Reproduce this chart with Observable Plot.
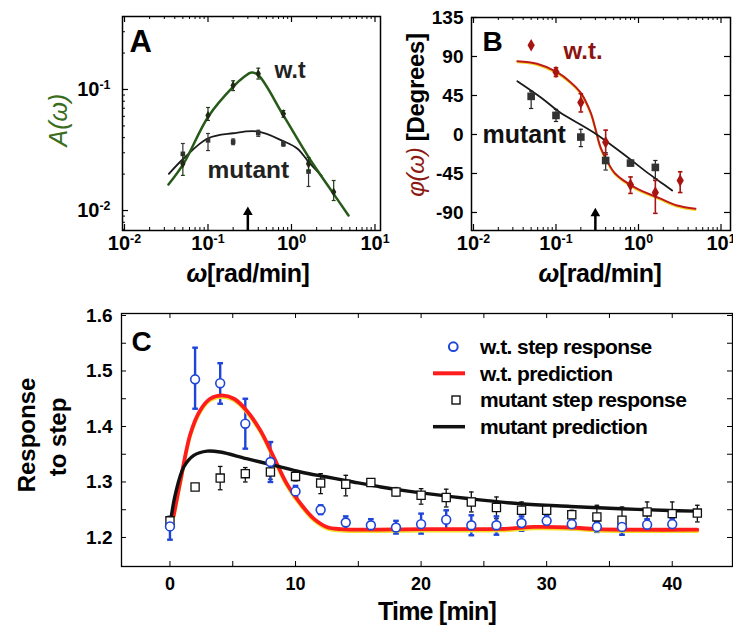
<!DOCTYPE html>
<html><head><meta charset="utf-8">
<script src="https://cdn.jsdelivr.net/npm/d3@7"></script>
<script src="https://cdn.jsdelivr.net/npm/@observablehq/plot@0.6"></script>
<style>
body{margin:0;background:#fff;}
#wrap{position:relative;width:733px;height:630px;overflow:hidden;font-family:"Liberation Sans",Arial,sans-serif;font-weight:bold;color:#000;}
.pl{position:absolute;}
.pl svg{overflow:visible;}
.lab{position:absolute;white-space:nowrap;transform:translate(-50%,-50%);line-height:1;}
.rot{transform:translate(-50%,-50%) rotate(-90deg);}
</style></head><body><div id="wrap"></div>
<script>
// ================= DATA =================
// Panel A : amplitude A(omega), log-log
const freqA    = [0.05, 0.1, 0.2, 0.4, 0.8, 1.6, 3.2];
const ampWT    = [0.0243, 0.061, 0.108, 0.135, 0.063, 0.0243, 0.0142];
const ampWTlo  = [0.0195, 0.0555, 0.098, 0.122, 0.059, 0.0214, 0.0121];
const ampWThi  = [0.029, 0.071, 0.118, 0.150, 0.067, 0.0274, 0.0177];
const freqAmut = [0.05, 0.1, 0.2, 0.4, 0.8, 1.6];
const ampMut   = [0.0294, 0.038, 0.037, 0.0436, 0.0356, 0.021];
const ampMutLo = [0.0244, 0.0313, 0.035, 0.041, 0.034, 0.0158];
const ampMutHi = [0.0358, 0.0433, 0.039, 0.046, 0.037, 0.0255];
const fitFreqWT_A = [0.0336, 0.051, 0.101, 0.202, 0.274, 0.332, 0.402, 0.80, 1.64, 3.18, 4.82];
const fitAmpWT_A  = [0.0164, 0.0244, 0.0598, 0.1059, 0.128, 0.138, 0.131, 0.061, 0.0269, 0.0138, 0.0091];
const fitFreqMut_A = [0.034, 0.051, 0.099, 0.2, 0.39, 0.80, 1.18, 1.61, 2.3];
const fitAmpMut_A  = [0.0201, 0.0269, 0.0394, 0.0435, 0.045, 0.0374, 0.0324, 0.0251, 0.0193];
const arrowFreq = 0.3;
const arrowTopA = 0.0097;
const xTicksA = [0.01, 0.1, 1, 10];
const yTicksA = [0.01, 0.1];

// Panel B : phase phi(omega), degrees
const freqB      = [0.05, 0.1, 0.2, 0.4, 0.8, 1.6, 3.2];
const phaseWT    = [103, 72, 37, -9, -58, -67, -53];
const phaseWTlo  = [null, 67, 26, -23, -68, -91, -67];
const phaseWThi  = [null, 77, 47, 5, -49, -53, -43];
const freqBmut   = [0.05, 0.1, 0.2, 0.4, 0.8, 1.6];
const phaseMut   = [44, 22, -3, -30, -33, -38];
const phaseMutLo = [30, 15, -14, -41, -36, -51];
const phaseMutHi = [50, 29, 6, -21, -30, -30];
const fitFreqWT_B = [0.034, 0.059, 0.103, 0.15, 0.2, 0.262, 0.30, 0.346, 0.414, 0.52, 0.9, 1.85, 2.95, 4.9];
const fitPhWT_B   = [84.6, 81.6, 71.9, 60.4, 48, 25.7, 7, -14.6, -30, -45, -61, -74, -82, -85.7];
const fitFreqMut_B = [0.034, 0.065, 0.11, 0.29, 0.73, 1.2, 1.85, 2.56];
const fitPhMut_B   = [61.5, 43, 26, 2, -26, -42, -55, -64.6];
const arrowTopB = -91;
const xTicksB = [0.01, 0.1, 1, 10];
const yTicksB = [-90, -45, 0, 45, 90, 135];

// Panel C : response to step
const timeWT  = [0, 2, 4, 6, 8, 10, 12, 14, 16, 18, 20, 22, 24, 26, 28, 30, 32, 34, 36, 38, 40];
const respWT  = [1.220, 1.485, 1.478, 1.405, 1.336, 1.283, 1.250, 1.227, 1.222, 1.218, 1.224, 1.232, 1.222, 1.222, 1.226, 1.230, 1.224, 1.219, 1.219, 1.223, 1.224];
const respWTlo= [1.196, 1.432, 1.441, 1.360, 1.300, 1.273, 1.242, 1.215, 1.211, 1.207, 1.207, 1.213, 1.204, 1.205, 1.212, 1.220, 1.215, 1.210, 1.205, 1.213, 1.214];
const respWThi= [1.237, 1.542, 1.514, 1.450, 1.372, 1.293, 1.258, 1.238, 1.233, 1.230, 1.243, 1.249, 1.240, 1.238, 1.238, 1.240, 1.232, 1.228, 1.228, 1.233, 1.234];
const timeMut  = [0, 2, 4, 6, 8, 10, 12, 14, 16, 18, 20, 22, 24, 26, 28, 30, 32, 34, 36, 38, 40, 42];
const respMut  = [1.230, 1.291, 1.307, 1.315, 1.318, 1.310, 1.298, 1.296, 1.299, 1.282, 1.276, 1.272, 1.264, 1.254, 1.249, 1.249, 1.241, 1.237, 1.231, 1.246, 1.243, 1.244];
const respMutLo= [1.222, null, 1.286, 1.300, 1.305, 1.302, 1.279, 1.275, 1.293, 1.275, 1.260, 1.255, 1.246, 1.234, 1.231, 1.237, 1.231, 1.216, 1.204, 1.231, 1.222, 1.228];
const respMutHi= [1.238, null, 1.328, 1.326, 1.328, 1.318, 1.315, 1.312, 1.305, 1.290, 1.288, 1.287, 1.282, 1.273, 1.264, 1.258, 1.249, 1.258, 1.255, 1.264, 1.264, 1.258];
const predTimeWT = [0.3, 0.84, 1.63, 2.4, 3.2, 4.15, 5.1, 6.1, 7.2, 8.26, 9.3, 10.4, 11.45, 12.5, 13.6, 20, 27, 29, 32, 34, 42];
const predWT     = [1.240, 1.303, 1.387, 1.429, 1.450, 1.456, 1.450, 1.429, 1.393, 1.345, 1.297, 1.261, 1.234, 1.219, 1.215, 1.215, 1.216, 1.219, 1.218, 1.215, 1.214];
const predTimeMut = [0, 0.44, 1.1, 1.9, 2.96, 4.0, 6.1, 8.3, 10.4, 12.5, 14.6, 16.8, 19.1, 23.9, 27.9, 31.9, 35.9, 39.8, 41.8];
const predMut     = [1.222, 1.279, 1.327, 1.348, 1.3556, 1.354, 1.342, 1.330, 1.318, 1.309, 1.300, 1.291, 1.283, 1.2697, 1.2607, 1.2559, 1.2517, 1.2486, 1.2474];
const xTicksC = [0, 10, 20, 30, 40];
const yTicksC = [1.2, 1.3, 1.4, 1.5, 1.6];
const legendC = ["w.t. step response", "w.t. prediction", "mutant step response", "mutant prediction"];

// ================= HELPERS =================
const wrap = document.getElementById("wrap");
const FONT = "Liberation Sans, Arial, sans-serif";
const zipXY = (xs, ys, extra = {}) => xs.map((x, i) => {
  const o = {x, y: ys[i]};
  for (const k in extra) o[k] = extra[k][i];
  return o;
});
const capSym = {draw(ctx, size) { const w = Math.sqrt(size); ctx.moveTo(-w / 2, 0); ctx.lineTo(w / 2, 0); }};
const supFmt = d => `10^${Math.round(Math.log10(d))}`;
function supify(svg) {
  svg.querySelectorAll("text").forEach(t => {
    const m = /^10\^(-?\d+)$/.exec(t.textContent);
    if (!m) return;
    t.textContent = "";
    const a = document.createElementNS("http://www.w3.org/2000/svg", "tspan");
    a.textContent = "10";
    const b = document.createElementNS("http://www.w3.org/2000/svg", "tspan");
    b.textContent = m[1];
    b.setAttribute("dy", "-0.55em");
    b.setAttribute("font-size", "0.62em");
    t.append(a, b);
  });
}
function place(svg, left, top) {
  const d = document.createElement("div");
  d.className = "pl"; d.style.left = left + "px"; d.style.top = top + "px";
  d.appendChild(svg); wrap.appendChild(d);
}
function logMinor(dom) {
  const out = [];
  for (let k = -4; k <= 2; k++) for (let m = 2; m <= 9; m++) {
    const v = m * Math.pow(10, k);
    if (v > dom[0] && v < dom[1]) out.push(v);
  }
  return out;
}
function errMarks(data, color, capR, sw) {
  const d = data.filter(o => o.lo != null);
  return [
    Plot.ruleX(d, {x: "x", y1: "lo", y2: "hi", stroke: color, strokeWidth: sw}),
    Plot.dot(d, {x: "x", y: "lo", symbol: capSym, r: capR, fill: "none", stroke: color, strokeWidth: sw}),
    Plot.dot(d, {x: "x", y: "hi", symbol: capSym, r: capR, fill: "none", stroke: color, strokeWidth: sw})
  ];
}
const baseStyle = {background: "transparent", fontFamily: FONT, fontSize: "19px", fontWeight: "bold", color: "black", overflow: "visible"};

// ================= PANEL A =================
{
  const W = 390, H = 290, mL = 122, mR = 10, mT = 16, mB = 60;
  const fw = W - mL - mR, fh = H - mT - mB;
  const xDom = [Math.pow(10, -2.024), Math.pow(10, 1.066)];
  const yDom = [Math.pow(10, -2.165), Math.pow(10, -0.397)];
  const wt = zipXY(freqA, ampWT, {lo: ampWTlo, hi: ampWThi});
  const mu = zipXY(freqAmut, ampMut, {lo: ampMutLo, hi: ampMutHi});
  const xMin = logMinor(xDom), yMin = logMinor(yDom);
  const svg = Plot.plot({
    width: W, height: H, marginLeft: mL, marginRight: mR, marginTop: mT, marginBottom: mB,
    x: {type: "log", domain: xDom}, y: {type: "log", domain: yDom},
    style: baseStyle,
    marks: [
      Plot.ruleX(xTicksA, {insetTop: fh - 6, strokeWidth: 1.2}),
      Plot.ruleX(xMin, {insetTop: fh - 3}),
      Plot.ruleX(xTicksA, {insetBottom: fh - 6, strokeWidth: 1.2}),
      Plot.ruleX(xMin, {insetBottom: fh - 3}),
      Plot.ruleY(yTicksA, {insetRight: fw - 6, strokeWidth: 1.2}),
      Plot.ruleY(yMin, {insetRight: fw - 3}),
      Plot.axisX({ticks: xTicksA, tickFormat: supFmt, tickSize: 0, tickPadding: 5, label: null, fontSize: 20}),
      Plot.axisY({ticks: yTicksA, tickFormat: supFmt, tickSize: 0, tickPadding: 12, label: null, fontSize: 20}),
      Plot.line(zipXY(fitFreqMut_A, fitAmpMut_A), {x: "x", y: "y", stroke: "#1a1a1a", strokeWidth: 1.8, curve: "catmull-rom"}),
      Plot.line(zipXY(fitFreqWT_A, fitAmpWT_A), {x: "x", y: "y", stroke: "#275a18", strokeWidth: 2.5, curve: "catmull-rom"}),
      ...errMarks(mu, "#333", 2.2, 1.2),
      Plot.dot(mu, {x: "x", y: "y", symbol: "square", r: 2.6, fill: "#333"}),
      ...errMarks(wt, "#1f3a14", 2.2, 1.2),
      Plot.dot(wt, {x: "x", y: "y", symbol: "diamond", r: 2.8, fill: "#1f2a14"}),
      Plot.ruleX([{x: arrowFreq, y1: yDom[0], y2: arrowTopA}], {x: "x", y1: "y1", y2: "y2", strokeWidth: 2.5}),
      Plot.dot([{x: arrowFreq, y: arrowTopA}], {x: "x", y: "y", symbol: "triangle", r: 3.6, fill: "black"}),
      Plot.text(["A"], {frameAnchor: "top-left", textAnchor: "start", lineAnchor: "top", dx: 7, dy: 13, fontSize: 31, fontWeight: "bold"}),
      Plot.text(["w.t"], {frameAnchor: "top-left", textAnchor: "start", lineAnchor: "top", dx: 152, dy: 45, fontSize: 23, fontWeight: "bold", fill: "#222"}),
      Plot.text(["mutant"], {frameAnchor: "top-left", textAnchor: "start", lineAnchor: "top", dx: 85, dy: 144, fontSize: 24.5, fontWeight: "bold", fill: "#222"}),
      Plot.frame({strokeWidth: 1.5})
    ]
  });
  supify(svg);
  place(svg, 0, 0);
}

// ================= PANEL B =================
{
  const W = 353, H = 290, mL = 91, mR = 3, mT = 17, mB = 60;
  const fw = W - mL - mR, fh = H - mT - mB;
  const xDom = [Math.pow(10, -2.024), Math.pow(10, 1.115)];
  const yDom = [-110.8, 135];
  const wt = zipXY(freqB, phaseWT, {lo: phaseWTlo, hi: phaseWThi});
  const mu = zipXY(freqBmut, phaseMut, {lo: phaseMutLo, hi: phaseMutHi});
  const xMin = logMinor(xDom);
  const svg = Plot.plot({
    width: W, height: H, marginLeft: mL, marginRight: mR, marginTop: mT, marginBottom: mB,
    x: {type: "log", domain: xDom}, y: {domain: yDom},
    style: baseStyle,
    marks: [
      Plot.ruleX(xTicksB, {insetTop: fh - 6, strokeWidth: 1.2}),
      Plot.ruleX(xMin, {insetTop: fh - 3}),
      Plot.ruleX(xTicksB, {insetBottom: fh - 6, strokeWidth: 1.2}),
      Plot.ruleX(xMin, {insetBottom: fh - 3}),
      Plot.ruleY(yTicksB, {insetRight: fw - 6, strokeWidth: 1.2}),
      Plot.ruleY(yTicksB, {insetLeft: fw - 6, strokeWidth: 1.2}),
      Plot.axisX({ticks: xTicksB, tickFormat: supFmt, tickSize: 0, tickPadding: 5, label: null, fontSize: 20}),
      Plot.axisY({ticks: yTicksB, tickFormat: d => String(d), tickSize: 0, tickPadding: 8, label: null, fontSize: 19}),
      Plot.line(zipXY(fitFreqWT_B, fitPhWT_B), {x: "x", y: "y", stroke: "#f0d830", strokeWidth: 2, dy: 1.2, curve: "catmull-rom"}),
      Plot.line(zipXY(fitFreqWT_B, fitPhWT_B), {x: "x", y: "y", stroke: "#c01a16", strokeWidth: 2, curve: "catmull-rom"}),
      Plot.line(zipXY(fitFreqMut_B, fitPhMut_B), {x: "x", y: "y", stroke: "#1a1a1a", strokeWidth: 1.8, curve: "catmull-rom"}),
      ...errMarks(mu, "#222", 2.4, 1.2),
      Plot.dot(mu, {x: "x", y: "y", symbol: "square", r: 4.3, fill: "#333"}),
      ...errMarks(wt, "#a81410", 2.6, 1.6),
      Plot.dot(wt, {x: "x", y: "y", symbol: "diamond", r: 3.8, fill: "#a81410"}),
      Plot.ruleX([{x: arrowFreq, y1: yDom[0], y2: arrowTopB}], {x: "x", y1: "y1", y2: "y2", strokeWidth: 2.5}),
      Plot.dot([{x: arrowFreq, y: arrowTopB}], {x: "x", y: "y", symbol: "triangle", r: 3.6, fill: "black"}),
      Plot.text(["B"], {frameAnchor: "top-left", textAnchor: "start", lineAnchor: "top", dx: 11, dy: 14, fontSize: 28, fontWeight: "bold"}),
      Plot.text(["w.t."], {frameAnchor: "top-left", textAnchor: "start", lineAnchor: "top", dx: 92, dy: 24, fontSize: 24, fontWeight: "bold", fill: "#8c1410"}),
      Plot.text(["mutant"], {frameAnchor: "top-left", textAnchor: "start", lineAnchor: "top", dx: 11, dy: 108, fontSize: 25, fontWeight: "bold", fill: "#111"}),
      Plot.frame({strokeWidth: 1.5})
    ]
  });
  supify(svg);
  place(svg, 380, 0);
}

// ================= PANEL C =================
{
  const W = 733, H = 340, mL = 121, mR = 1, mT = 23, mB = 64;
  const fw = W - mL - mR, fh = H - mT - mB;
  const xDom = [-3.86, 44.8];
  const yDom = [1.1477, 1.6036];
  const wt = zipXY(timeWT, respWT, {lo: respWTlo, hi: respWThi});
  const mu = zipXY(timeMut, respMut, {lo: respMutLo, hi: respMutHi});
  const xT5 = [0, 5, 10, 15, 20, 25, 30, 35, 40];
  const yT5 = [1.2, 1.25, 1.3, 1.35, 1.4, 1.45, 1.5, 1.55, 1.6];
  const svg = Plot.plot({
    width: W, height: H, marginLeft: mL, marginRight: mR, marginTop: mT, marginBottom: mB,
    x: {domain: xDom}, y: {domain: yDom},
    style: baseStyle,
    marks: [
      Plot.ruleX(xT5, {insetTop: fh - 5}),
      Plot.ruleX(xT5, {insetBottom: fh - 5}),
      Plot.ruleY(yT5, {insetRight: fw - 5}),
      Plot.ruleY(yT5, {insetLeft: fw - 5}),
      Plot.axisX({ticks: xTicksC, tickFormat: d => String(d), tickSize: 0, tickPadding: 11, label: null, fontSize: 18}),
      Plot.axisY({ticks: yTicksC, tickFormat: d3.format(".1f"), tickSize: 0, tickPadding: 9, label: null, fontSize: 19}),
      ...errMarks(mu, "#111", 2.6, 1.3),
      ...errMarks(wt, "#1f45d8", 3.2, 2.4),
      Plot.line(zipXY(predTimeWT, predWT), {x: "x", y: "y", stroke: "#f2dd2a", strokeWidth: 3.5, dy: 1.6, curve: "catmull-rom"}),
      Plot.line(zipXY(predTimeWT, predWT), {x: "x", y: "y", stroke: "#ff1c1c", strokeWidth: 3.8, curve: "catmull-rom"}),
      Plot.line(zipXY(predTimeMut, predMut), {x: "x", y: "y", stroke: "#111", strokeWidth: 3.4, curve: "catmull-rom"}),
      Plot.dot(mu, {x: "x", y: "y", symbol: "square", r: 4.6, fill: "white", stroke: "#111", strokeWidth: 1.3}),
      Plot.dot(wt, {x: "x", y: "y", symbol: "circle", r: 4.4, fill: "white", stroke: "#1f45d8", strokeWidth: 1.6}),
      Plot.text(["C"], {frameAnchor: "top-left", textAnchor: "start", lineAnchor: "top", dx: 10, dy: 18, fontSize: 28, fontWeight: "bold"}),
      Plot.frame({strokeWidth: 1.3})
    ]
  });
  place(svg, 0, 290);
}

// ================= LEGEND C =================
{
  const ns = "http://www.w3.org/2000/svg";
  const svg = document.createElementNS(ns, "svg");
  svg.setAttribute("width", 290); svg.setAttribute("height", 110);
  const d = document.createElement("div");
  d.className = "pl"; d.style.left = "425px"; d.style.top = "330px";
  const el = (tag, attrs) => { const e = document.createElementNS(ns, tag); for (const k in attrs) e.setAttribute(k, attrs[k]); svg.appendChild(e); return e; };
  const rowY = [16.7, 43.3, 70, 96.7];
  el("circle", {cx: 28.3, cy: rowY[0], r: 4.4, fill: "white", stroke: "#1f45d8", "stroke-width": 2});
  el("line", {x1: 8, x2: 40, y1: rowY[1], y2: rowY[1], stroke: "#ff1c1c", "stroke-width": 4});
  el("rect", {x: 27, y: rowY[2] - 4, width: 8, height: 8, fill: "white", stroke: "#111", "stroke-width": 1.4});
  el("line", {x1: 8, x2: 40, y1: rowY[3], y2: rowY[3], stroke: "#111", "stroke-width": 3.5});
  legendC.forEach((s, i) => {
    const t = el("text", {x: 55, y: rowY[i], dy: "0.35em", "font-family": FONT, "font-weight": "bold", "font-size": 21, "letter-spacing": "-0.6"});
    t.textContent = s;
  });
  d.appendChild(svg); wrap.appendChild(d);
}

// ================= AXIS TITLES =================
wrap.insertAdjacentHTML("beforeend", `
<div class="lab rot" style="left:58px;top:120px;font-size:25px;font-style:italic;font-weight:normal;color:#3a6d1c">A(ω)</div>
<div class="lab" style="left:248px;top:273px;font-size:25px;letter-spacing:-0.5px"><i>ω</i>[rad/min]</div>
<div class="lab rot" style="left:416px;top:115px;font-size:24px;letter-spacing:-0.3px"><span style="color:#8c1a14;font-style:italic;font-weight:normal">φ(ω)</span> [Degrees]</div>
<div class="lab" style="left:600px;top:273px;font-size:25px;letter-spacing:-0.5px"><i>ω</i>[rad/min]</div>
<div class="lab rot" style="left:27px;top:435px;font-size:24px">Response</div>
<div class="lab rot" style="left:58px;top:437px;font-size:24px">to step</div>
<div class="lab" style="left:437px;top:611px;font-size:25px;letter-spacing:-0.8px">Time [min]</div>
`);
</script></body></html>
